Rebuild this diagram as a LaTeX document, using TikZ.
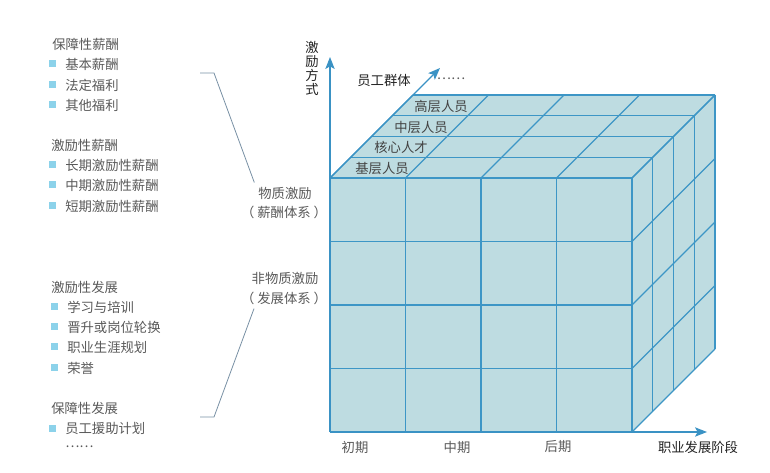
\documentclass[tikz,border=0pt]{standalone}
\usepackage{fontspec}
\setmainfont{Noto Sans CJK SC}
\usepackage{xcolor}
\usetikzlibrary{arrows.meta}

\definecolor{cubefill}{HTML}{BEDCE1}
\definecolor{cubeline}{HTML}{3D96C6}
\definecolor{axisblue}{HTML}{3A92C4}
\definecolor{textgray}{HTML}{595959}
\definecolor{darktext}{HTML}{222222}
\definecolor{bulletblue}{HTML}{8CD2EA}
\definecolor{leadgray}{HTML}{7890A4}

\begin{document}
\begin{tikzpicture}[
    x=0.75pt, y=-0.75pt,
    font=\fontsize{10}{12}\selectfont,
    every node/.style={inner sep=0pt, text=textgray},
    head/.style={anchor=west},
    bullet/.style={fill=bulletblue, minimum size=5.25pt, inner sep=0pt, xshift=-6.5pt},
    item/.style={anchor=west, label={[bullet]left:{}}},
    grid/.style={draw=cubeline, line width=0.9pt},
    axis/.style={draw=axisblue, line width=0.8pt, -{Stealth[length=9pt, width=7pt, inset=2pt]}},
    axislabel/.style={text=darktext},
    layer/.style={text=darktext!85},
    lead/.style={draw=leadgray, line width=0.6pt}
]
    \useasboundingbox (0,0) rectangle (770,473);

    % Cube faces
    \fill[cubefill] (330,178) rectangle (632,432);
    \fill[cubefill] (330,178) -- (632,178) -- (715,95) -- (413,95) -- cycle;
    \fill[cubefill] (632,178) -- (715,95) -- (715,349) -- (632,432) -- cycle;

    % Grid
    \foreach \i in {0,...,4} {
        \draw[grid] (330+75.5*\i,178) -- (330+75.5*\i,432);
        \draw[grid] (330+75.5*\i,178) -- ++(83,-83);
        \draw[grid] (330,178+63.5*\i) -- (632,178+63.5*\i);
        \draw[grid] (632,178+63.5*\i) -- ++(83,-83);
        \draw[grid] (330+20.75*\i,178-20.75*\i) -- ++(302,0);
        \draw[grid] (632+20.75*\i,178-20.75*\i) -- ++(0,254);
    }

    % Axes
    \coordinate (O) at (330,432);
    \coordinate (T) at (330,178);
    \coordinate (ytip) at (330,57);
    \coordinate (xtip) at (707,432);
    \coordinate (ztip) at (440,68);
    \draw[axis] (O) -- (ytip);
    \draw[axis] (O) -- (xtip);
    \draw[axis] (T) -- (ztip);

    % Axis labels
    \node[axislabel, align=center, font=\fontsize{10}{10.5}\selectfont] (ylab) at (312,68) {激\\励\\方\\式};
    \node[axislabel] (zlab) at (384,80) {员工群体};
    \node (zdots) at (451,79) {……};
    \node[axislabel] (xlab) at (698,447) {职业发展阶段};
    \node (early) at (355,447) {初期};
    \node (middle) at (457,447) {中期};
    \node (late) at (558,447) {后期};

    % Layers
    \node[layer] (senior) at (441,106) {高层人员};
    \node[layer] (midlevel) at (421,127) {中层人员};
    \node[layer] (core) at (401,147) {核心人才};
    \node[layer] (base) at (382,168) {基层人员};

    % Material incentives
    \node[head] (pay1) at (52,44) {保障性薪酬};
    \node[item] (pay11) at (65,64) {基本薪酬};
    \node[item] (pay12) at (65,85) {法定福利};
    \node[item] (pay13) at (65,105) {其他福利};
    \node[head] (pay2) at (51,145) {激励性薪酬};
    \node[item] (pay21) at (65,165) {长期激励性薪酬};
    \node[item] (pay22) at (65,185) {中期激励性薪酬};
    \node[item] (pay23) at (65,206) {短期激励性薪酬};

    % Non-material incentives
    \node[head] (dev1) at (51,287) {激励性发展};
    \node[item] (dev11) at (67,307) {学习与培训};
    \node[item] (dev12) at (67,327) {晋升或岗位轮换};
    \node[item] (dev13) at (67,347) {职业生涯规划};
    \node[item] (dev14) at (67,368) {荣誉};
    \node[head] (dev2) at (51,408) {保障性发展};
    \node[item] (dev21) at (65,428) {员工援助计划};
    \node[head] (devdots) at (65,447) {……};

    % Groups
    \node (wz) at (285,193) {物质激励};
    \node (wzs) at (284,212) {（ 薪酬体系 ）};
    \node (fwz) at (285,278) {非物质激励};
    \node (fwzs) at (284,298) {（ 发展体系 ）};

    % Connections
    \coordinate (lt) at (200,73);
    \coordinate (lb) at (200,417);
    \draw[lead] (lt) -- ++(14,0) -- ([xshift=-23pt, yshift=3pt]wz.north);
    \draw[lead] (lb) -- ++(14,0) -- ([xshift=-22.5pt, yshift=-3pt]fwzs.south);
\end{tikzpicture}
\end{document}
